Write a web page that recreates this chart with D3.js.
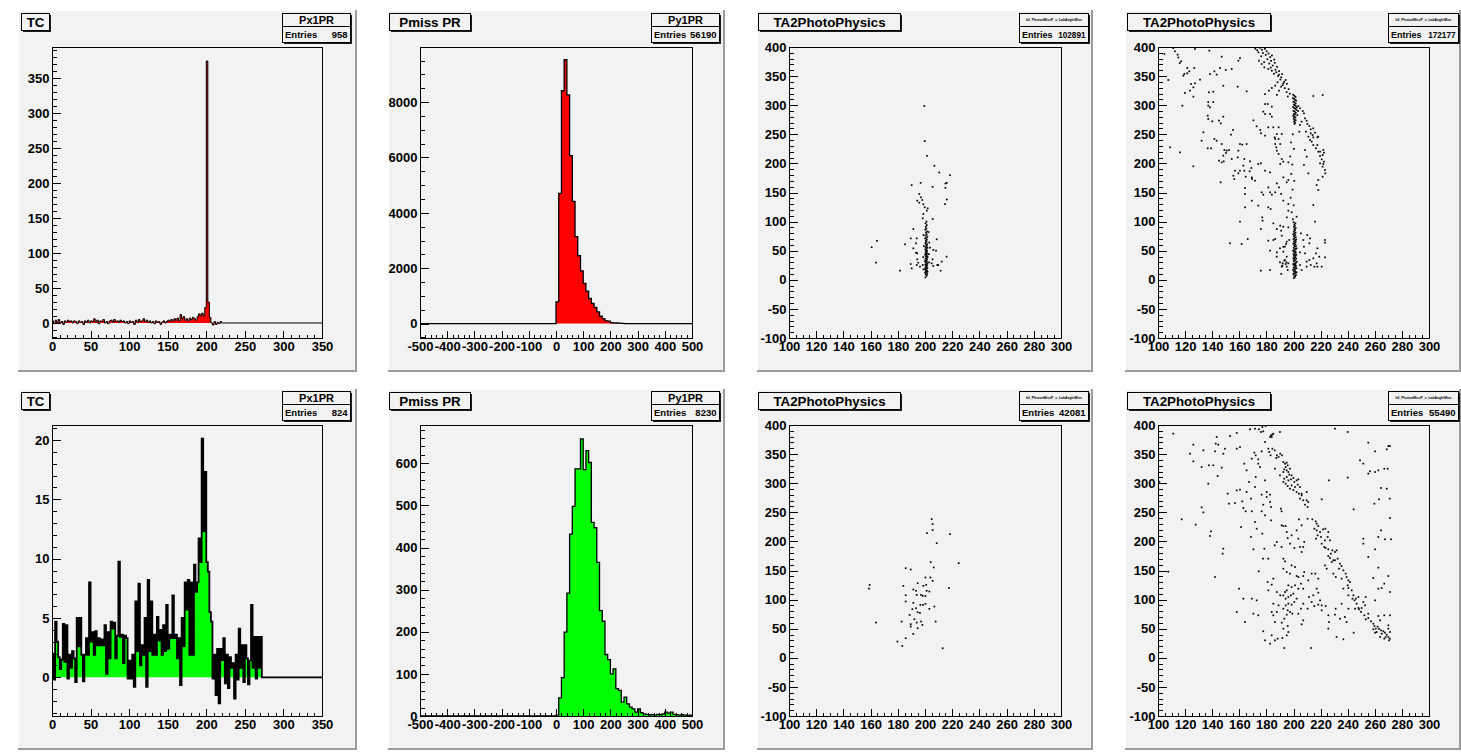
<!DOCTYPE html>
<html>
<head>
<meta charset="utf-8">
<script src="https://cdn.jsdelivr.net/npm/d3@7"></script>
<style>
  html, body { margin: 0; padding: 0; background: #ffffff; }
  svg { display: block; }
</style>
</head>
<body>
<svg id="canvas" width="1461" height="752"></svg>
<script>
// ---------------------------------------------------------------------------
// Data
// ---------------------------------------------------------------------------

// Px1PR (top, red), 2-unit bins starting at 0
const px1prTop = [
  3,-1,4,1,5,0,2,-2,3,1, 4,2,3,0,3,2,-1,3,1,2, -2,3,1,4,0,3,2,6,1,4,
  -1,3,2,5,0,2,-1,3,4,1, 5,2,3,1,4,2,3,0,2,-1, 3,1,2,-2,4,1,5,2,3,6,
  2,4,1,3,0,2,-1,3,1,2, -2,1,3,0,2,4,2,5,3,6, 4,7,3,12,6,9,4,6,3,7,
  5,8,6,4,9,13,10,14,10,22, 375,30,8,0,-3,2,-2,1,-1,2, 0
];

// Px1PR (bottom, green), 2-unit bins starting at 0
const px1prBottom = [
  2.0,-0.2,4.7,3.0,1.7,0.7,1.5,4.5,1.3,4.4,
  -0.1,1.9,0.8,2.2,1.6,-0.4,5.0,2.6,5.0,1.9,
  -0.35,1.9,3.3,1.9,8.0,3.0,3.8,1.9,3.9,2.7,
  3.3,2.7,3.2,2.7,4.4,0.3,3.8,1.6,4.7,4.1,
  4.6,1.6,3.5,9.75,3.4,3.6,1.2,3.5,3.3,-0.1,
  1.4,-0.1,1.9,-0.8,6.4,2.2,7.9,1.0,2.7,1.9,
  5.0,-0.8,8.2,2.2,6.4,1.9,3.6,1.9,5.1,3.1,
  4.0,1.9,4.4,2.2,6.1,2.4,3.6,3.3,6.9,3.3,
  3.6,1.6,3.3,-0.65,5.0,2.6,8.0,5.7,8.2,1.9,
  8.0,1.9,9.5,7.2,8.0,11.7,9.7,20.1,12.3,17.3,
  9.7,8.9,5.5,4.7,-0.1,1.9,-1.5,2.4,-2.2,2.4,
  1.45,3.3,-0.5,1.9,-0.9,1.7,0.8,1.2,-1.8,1.9,
  -0.2,4.1,0.8,2.7,-0.4,2.7,1.6,-0.6,1.4,6.1,
  0.8,3.4,-0.1,3.4,0.8,3.4
];

// Py1PR (top, red), 10-unit bins starting at 0
const py1prTop = [
  785,4700,8410,9530,8260,6070,4415,3140,2450,1905,
  1450,1170,905,725,580,420,265,180,100,90,
  30,25,20,15,5
];

// Py1PR (bottom, green), 10-unit bins starting at 0
const py1prBottom = [
  2,43,91,199,292,432,498,587,587,658,
  585,630,602,460,447,365,250,225,146,134,
  100,112,65,61,33,45,29,21,17,9,
  17,8,5,4,3,3,2,4,3,5,
  9,7,9,4,3,2,3,2,1,2
];

// TA2PhotoPhysics correlations, [x, y] per event
const photoTopA = [
  [199.5,298.5],[199.8,238.3],[201.5,213],[206.9,195.9],[210.5,184.4],[218.4,179.8],[205.6,159.7],
  [190.2,162.6],[196.8,166.6],[215,165.5],[216,166.6],[215,158],[216,138],[214.7,130],[195.8,147.4],
  [197,141.7],[194.3,136],[195.8,132.5],[198,137.1],[198.8,129.7],[199.8,124.5],[202,122.8],
  [201.3,118.8],[198.8,113],[198.3,105.6],[205.6,104.5],[191.4,87.3],[189.5,71.2],[193.9,71.2],
  [185.3,60.9],[191.4,54],[193.4,62.7],[193.4,46.6],[194.3,45.5],[208.6,69.5],[203.7,55.2],
  [206.1,51.2],[208.1,50.1],[215.9,39.8],[212.3,31.2],[209.8,25.4],[211.5,15.7],[205.6,35.2],
  [204.9,28.3],[206.1,23.7],[209,25.4],[194.3,35.2],[195,29.4],[189.5,27.1],[190.2,19.7],
  [181.6,15.7],[193.9,25.4],[196.3,22.6],[198.3,25.4],[164.7,66.9],[160.8,56],[164,29.6],
  [202.6,82],[198.9,77],[203.1,64],[199.2,58],[202.8,44],[198.7,39],[203.0,30],[198.9,18],
  [200.3,4],[201.2,7],[200.6,9],[201.6,10],[200.1,12],[201.0,13],[201.9,14],[200.5,15],[201.4,16],
  [200.0,18],[200.9,19],[201.7,20],[200.4,21],[201.2,22],[200.7,24],[201.5,25],[200.2,26],
  [201.0,27],[201.8,28],[200.5,30],[201.3,31],[200.0,32],[200.8,33],[201.6,35],[200.3,36],
  [201.1,37],[201.9,39],[200.6,40],[201.4,41],[200.1,43],[200.9,44],[201.7,45],[200.4,46],
  [201.2,48],[200.7,49],[201.5,50],[200.2,52],[201.0,53],[201.8,55],[200.5,56],[201.3,58],
  [200.8,60],[201.6,61],[200.3,63],[201.1,65],[200.6,67],[201.4,69],[200.1,71],[200.9,72],
  [201.7,74],[200.4,76],[201.2,78],[200.7,81],[201.5,83],[200.2,86],[201.0,88],[200.6,91],
  [201.3,94],[200.4,97],[201.1,100]
];

const photoTopB = [
  [111.3,398],[112.5,392.6],[114.5,386.8],[115,382],[117,375.4],[116,372.5],[107.6,343.3],[104.7,388],
  [127.3,396.6],[137.9,393.7],[147,383.4],[159.3,376.5],[160.5,381],[154.4,362.2],[150,360.5],
  [145.8,364],[141.6,358.2],[143.3,352.5],[138.4,353.6],[131,343.9],[127.3,337.6],[124.4,336.4],
  [126.1,330.7],[123.6,325],[121.6,364],[123.1,358.2],[119.4,353.6],[121.6,354.7],[118.7,350.7],
  [126.8,364],[119.9,321],[126.1,314.7],[118,299.2],[148.2,333.5],[158.8,331.8],[165.4,323.8],
  [137.6,322.1],[140.8,323.2],[137.1,305.5],[137.1,299.2],[140.8,305.5],[138.4,296.3],[136.7,282],
  [137.1,276.3],[140.1,272.3],[145,273.5],[146.3,268.8],[148.2,280.3],[153.9,249.4],[155.4,257.4],
  [133.5,253.4],[132.2,239],[141.6,241.9],[143.3,239],[136.7,225.9],[139.2,225.9],[147,233.3],
  [149,223],[150.2,217.9],[150.7,221.9],[152.4,223],[148.2,213.3],[145,204.7],[147,201.8],
  [148.5,203.6],[154.4,207.6],[160.5,233.3],[162.2,232.2],[165.4,233.3],[159.3,221.9],[158.8,210.5],
  [163.7,207.6],[167.9,203.6],[163,196.1],[160.5,187.5],[163.7,187.5],[156.8,187.5],[155.6,178.9],
  [159.3,182.9],[156.3,173.1],[168.9,192.1],[174,199],[175.9,200.1],[164.7,177.2],[167.6,186.4],
  [169.4,173.2],[171.6,170.3],[169.2,176],[126.1,195],[108.9,227.6],[116.2,219],[146.2,167.5],
  [164.2,157.7],[164.2,147.4],[164.2,124.5],[169.2,136],[174,127.4],[176.5,150.3],[177.7,146.3],
  [179,187.5],[182.7,184.6],[181.4,158.8],[182.7,150.3],[184,146.3],[186.5,150.3],
  [160.5,100],[153.1,62.7],[161.7,61.5],[166.2,70.1],[175.9,87.3],[176.9,107.3],[177.2,101.6],
  [181.4,124.5],[183.1,121.6],[185.1,97],[175.9,15.7],[182.7,50.1],[181.4,67.3],[186.5,70.1],
  [187.7,87.3],[187.7,47.2],[190.2,93],[190.9,84.4],[192.5,91.2],[191.3,75.8],[190,30],[191.8,24.3],
  [193.2,32.9],[194.8,30],[191,10],[194.2,27.1],[195,65.5],[194.5,61.5],[192.5,56.7],[196.2,90.1],
  [195,107.3],[196.2,118.8],[196.2,130.2],[192.5,136],[190.9,147.4],[189.3,158.8],[187.7,165.7],
  [192.5,176],[195,167.5],[196.2,171.4],[196.2,201.8],[192.5,203],[191.3,207.6],[190.2,199],
  [189,216.2],[187.7,221.9],[186.1,244.8],[186.5,233.3],[187.3,227.6],[186.5,242],[189,242],
  [190.2,233.3],[191.3,250.5],[189,262],[185.1,262],[181.4,262],[187.7,250.5],[175.5,257.4],
  [176,251.7],[179,247.7],[179,284.9],[182.7,284.9],[184,280.3],[179,302],[181,302],[184,297.5],
  [177.7,289],[172.8,263.7],[170.4,274],
  [179,319],[181.9,325],[184,329.6],[186.5,333.6],[187.7,317.8],[189.3,325],[190.9,331.8],
  [192.5,337.6],[194.2,343.3],[190.9,347.9],[189.3,352.5],[187.3,356.5],[184,359.3],[181.4,362.2],
  [178.5,365],[176.5,370.8],[174.5,376.5],
  [171.8,397],[173.2,394.5],[175.5,398.5],[176.8,395.2],[178.9,396.8],[174.1,391],[177.4,389.6],
  [180.2,392.5],[179.5,386.4],[181.6,388.8],[176.2,384],[182.8,382.6],[184.1,385.5],[180.7,379],
  [183.5,376.2],[185.8,378.4],[178.3,374.1],[182.1,371.5],[186.2,372.8],[184.6,368.2],[187.9,366],
  [183.2,364.5],[186.7,361],[189.4,358.5],[185.5,354],[188.6,350.2],[191.5,353.4],[190.3,344],
  [193.1,340.2],[188.2,339.4],[192,334.5],[195.1,336.8],[193.6,329.3],[196.4,327.6],[194.9,322.5],
  [197.3,319.8],[195.8,315],
  [199.8,318],[200.7,316],[201.5,314],[199.6,312],[200.4,311],[201.2,309],[202.0,308],[199.9,306],
  [200.8,305],[201.6,303],[200.2,301],[201.0,300],[201.8,298],[199.7,297],[200.5,295],[201.3,294],
  [202.1,292],[200.0,290],[200.9,289],[201.7,287],[200.3,285],[201.1,284],[199.8,282],[200.6,280],
  [201.4,279],[200.1,277],[200.9,275],[201.6,274],[200.4,272],[201.2,270],[200.7,268],
  [202.5,296],[203.4,290],[202.8,283],
  [199.5,250],[198.2,236],[200.3,225],[197.6,212],[199.1,198],[198.4,182],[200.6,170],[199.3,155],
  [197.9,141],[200.1,128],[198.7,116],[199.6,104],
  [203.6,298.6],[204.8,294.6],[206.8,290],[207.7,286],[206,271.7],[208.5,277.4],[209.7,273.4],
  [210.2,267.7],[211.7,264.3],[212.7,258.5],[214.6,260.2],[215.9,252.8],[212.7,251.7],[214.1,248.8],
  [211,246],[214.6,244.8],[217.6,244.8],[212.2,240.2],[213.4,237.3],[214.6,231.6],[217.6,231.6],
  [216.6,225.9],[218.3,220.2],[219.6,220.2],[222,223],[222.5,218.4],[221.5,214.4],[219.6,212.7],
  [220.8,207],[222.5,203],[219.6,200.1],[222,199],[221.5,194.4],[223.2,188.7],[223.5,182.9],
  [221.5,177.2],[218.3,171.5],[217.1,162.9],[218.3,154.3],[214.6,128.5],[211,182.9],[207.7,197.3],
  [208.5,223],[209.7,211.6],[204.3,254.5],[204.8,266],[209.2,254.5],[214.6,315.8],[221.5,317.5],
  [218.3,246],
  [205.5,79.8],[207.3,68.4],[207.7,56.9],[210.2,77],[212.2,71.2],[208.5,45.5],[209.7,31.2],
  [211.7,34],[212.7,25.4],[214.6,36.9],[215.4,22.6],[217.1,28.3],[217.6,54.1],[216.6,45.5],
  [219,39.7],[217.6,22.6],[220.8,22.6],[223.2,68.4],[223.2,63.8],[223.2,38.6],[215.9,99.9],
  [211.7,62.7],[204.8,25.4],[206,16.8],[209.7,22.6],[204.8,47.2],[202.3,108.5],
  [185.1,68.4],[190,54.1],[192,28.3],[191.3,22.6],[193.7,34],[195,39.7],[195,22.6],[196.2,28.3],
  [182.7,16.8],[187.6,39.7],[195.7,16.8],[196.9,68.4],[193.7,57],[192.5,48.3],
  [200.2,3],[201.1,5],[200.6,7],[201.8,8],[199.9,10],[200.8,11],[201.6,12],[202.3,13],[200.3,14],
  [201.2,15],[199.7,17],[200.6,18],[201.5,19],[202.2,20],[200.1,21],[201.0,22],[201.8,24],
  [200.4,25],[201.3,26],[199.8,27],[200.7,28],[201.6,29],[202.4,31],[200.2,32],[201.1,33],
  [200.5,35],[201.9,36],[199.9,37],[200.8,38],[201.5,39],[200.3,41],[201.2,42],[202.1,43],
  [200.0,44],[200.9,45],[201.7,47],[200.4,48],[201.3,49],[199.7,50],[200.6,52],[201.5,53],
  [202.3,54],[200.2,55],[201.0,57],[201.8,58],[200.5,59],[201.4,61],[199.9,62],[200.7,63],
  [201.6,65],[200.3,66],[201.2,68],[202.0,69],[200.0,70],[200.8,72],[201.7,73],[200.4,75],
  [201.3,77],[199.8,78],[200.6,80],[201.5,81],[200.2,83],[201.1,85],[200.7,87],[201.6,89],
  [200.3,91],[201.0,93],[200.6,95],[201.4,97],[200.1,99]
];

const photoBottomA = [
  [204.9,238.3],[205.6,229.7],[205.6,219.4],[201.5,214.2],[218.4,212.5],[208.6,197],[224.8,162.6],
  [204.2,164.3],[206.4,155.2],[185.8,154],[189.5,151.7],[200.3,138],[204,138],[205.6,132.2],
  [194.6,128.2],[200.9,125.3],[198.8,123.6],[184.1,123.6],[217.6,119.9],[158.8,119],[159.3,125.3],
  [191.4,117.4],[193.4,115.1],[201.2,115.1],[203.2,113.9],[197.1,108.1],[198.3,106.4],[200.3,106.4],
  [185.8,107.6],[193.9,108.1],[185.8,96.7],[191.4,94.4],[196.6,90.9],[198.5,90.9],[200.3,92.7],
  [206.9,88.1],[193.4,85.2],[190.7,83.5],[203.2,84.1],[194.6,78.3],[196.3,77.2],[188.7,73.7],
  [192.2,66.3],[207.8,62.3],[182.8,62.3],[164,60.6],[189.5,57.7],[189.5,53.7],[197.1,62.3],
  [198.1,56.5],[193.9,60.6],[194.6,50.8],[191.4,41],[185.8,33.6],[179.7,27.9],[183.3,20.4],[213,16.4]
];

const photoBottomB = [
  [111.3,385.1],[158.1,386.3],[167.9,392.6],[171.6,393.7],[174.5,392.6],[177,396.6],[179.5,398.3],
  [176,388],[177.7,389.1],[183.4,382.2],[182.7,379.4],[184.4,383.4],[190,388],[153.1,381.1],
  [143.3,379.4],[230.6,393.7],[240,388],[255.2,369.6],[260.2,354.7],[271.2,363.9],[268.8,358.2],
  [126.1,366.2],[148.2,350.7],[149.4,359.3],[142.6,368],[158.1,359.3],[160.5,362.1],[123.6,350.7],
  [126.1,337.6],[133.5,356.5],[171.1,352.5],[172.1,347.9],[174,341],[174,333.6],[175.3,327.8],
  [176.5,354.7],[179,370.8],[181.4,359.3],[182,353.6],[184.4,359.3],[186.1,356.5],[187.7,347.9],
  [189,345],[190.2,350.7],[191.5,347.9],[187.3,343.3],[183.1,347.9],[183.9,379.4],[185.1,385.1],
  [144.5,366.2],[142.1,354.7],[163.7,333.6],[165.4,322.1],[169.2,342.2],[172.1,310.7],[158.1,287.7],
  [162.2,268.8],[171.6,293.5],[176.5,280.3],[167.2,302.1],[107.6,148],[101,302.6],
  [192.5,336.4],[193.7,333.6],[195,335.3],[195.7,330.7],[194.2,327.8],[193.2,323.8],[192.5,319.2],
  [195,322.1],[196.2,319.2],[197.4,325],[196.9,314.7],[198.6,313.5],[195,310.7],[193.2,307.8],
  [196.2,304.9],[198.1,306.6],[199.9,308.9],[200.6,302.1],[202.3,304.9],[203.6,306.6],[192.5,302.1],
  [194.2,299.2],[195.7,295.2],[197.4,290.6],[198.6,296.3],[201.1,293.5],[203.1,297.5],[199.9,288.3],
  [202.3,284.9],[204,282],[206,279.1],[204.8,273.5],[207.2,270.6],[209.7,270.6],[210.9,267.7],
  [208.5,263.1],[210.4,259.1],[206,282],[209.7,284.9],[204.8,293.5],[190,313.5],[179,304.9],[186.3,325],
  [216.4,234.5],[217.1,230.5],[218.3,226.4],[215.4,221.9],[217.1,219],[219.6,216.1],[217.8,210.4],
  [220.3,207.6],[216.6,204.7],[221.8,220.7],[223.5,221.9],[225.7,216.1],[226.9,201.8],[223.2,201.8],
  [225.2,207.6],[220.8,196.1],[222.7,190.4],[223.7,188.7],[225.7,186.4],[228.7,184.6],[230.6,181.8],
  [231.8,184.6],[227.6,178.9],[226.9,171.5],[228.2,164.6],[230.6,167.5],[232.6,170.3],[234.3,161.7],
  [235.5,157.7],[233.6,153.1],[236.8,150.3],[238.5,144.6],[239.2,138.8],[240.5,133.1],[241.7,130.2],
  [240,124.5],[240.5,119.9],[243,115.9],[244.2,107.3],[243.5,101.6],[245,98.7],[246.6,93],
  [247.9,85.6],[248.4,83.3],[250.3,85.6],[252.8,90.1],[251.5,95.8],[253.3,104.5],[249.8,79],
  [252.3,73],[253.3,66.1],[255.2,68.4],[257.2,62.7],[258.9,58.6],[259.7,54.6],[260.7,50.1],
  [262.1,53.5],[263.1,49.6],[264.6,47.2],[266.3,45.5],[267.5,43.2],[268.8,39.7],[270,35.7],
  [271.2,32.9],[270.5,30],[265.1,41.4],[263.9,35.7],[261.4,44.3],[258.9,48.9],[260.2,43.2],
  [267,32.9],[268,35.7],[262.6,71.8],[263.9,64.4],[267,73],[270,55.8],[271.2,44.3],[255.2,75.8],
  [247.9,104.4],[246.1,101.6],[240.5,107.3],[236.8,118.8],[235.5,136],[229.4,144.6],[231.2,138.8],
  [229.4,167.5],[225.7,174.9],[224.5,153.1],[223.2,158.8],[218.3,136],[216.1,144.6],[217.1,118.8],
  [219.6,98.7],[220.8,90.1],[218.3,111.9],[214.6,107.3],[225.7,73],[226.2,61.5],[230.6,74.1],
  [231.1,84.4],[235.5,93],[234.3,67.2],[237.9,70.1],[239.2,61.5],[240.5,84.4],[245.4,84.4],
  [244.4,43.2],[231.8,35.7],[236.8,31.7],[212.9,16.8],[193.2,16.8],
  [249.1,339.3],[251.5,333.6],[255.2,316.4],[256.4,320.4],[260.2,319.2],[262.6,322.1],[267,324.9],
  [270,363.9],[269.5,324.9],[264.6,291.8],[268.8,290.6],[259.7,264.8],[263.1,272.3],[271,273.4],
  [271.2,240.2],[264.6,219],[262.6,207.6],[267.5,203.6],[272,203.6],[260.2,186.4],[255.2,173.2],
  [251.5,204.7],[251.5,196.1],[262.6,154.9],[270,140.5],[258.9,137.1],[267,127.4],[265.1,119.9],
  [271.2,113.1],[262.6,118.8],[260.2,98.7],[271.2,73],[270,50.1],[244.4,255.1],[240,309.7],
  [226.2,304.9],[220.8,272.3],[213.9,237.9],
  [137.1,299.2],[132.2,327.8],[137.6,330.7],[140.8,330.7],[144,312.4],[147,326.7],[151.4,282],
  [152.4,264.8],[156.8,265.9],[160.5,288.9],[163,257.4],[164.7,251.7],[165.4,284.9],[168.6,273.5],
  [169.2,251.7],[132.2,258.5],[133.5,249.9],[117.5,237.9],[127.8,228.8],[139.1,217.3],[138.4,209.3],
  [148.2,187.5],[147.7,178.9],[142.1,138.8],[161.3,224.7],[168.6,207.6],[170.4,186.4],[171.6,233.3],
  [172.8,221.9],[176.5,251.7],[177.7,263.1],[179,244.8],[180.2,276.3],[180.2,284.9],[182.7,280.3],
  [182.7,267.7],[183.4,259.1],[183.4,236.2],[177,213.3],[178.5,187.5],[174.3,148.6],[177.5,170.3],
  [180.9,130.2],[181.4,170.3],[183.9,125.7],[185.1,136],[186.1,193.2],[187.7,199],[190.7,256.3],
  [191.2,251.7],[191.2,227.6],[191.2,190.4],[192.5,226.4],[194.2,226.4],[195,216.2],[195.7,205.8],
  [197.4,196.1],[198.6,210.4],[200.6,188.7],[202.3,219],[203.6,204.7],[204.8,190.4],[206,227.6],
  [207.2,190.4],[207.9,199],[206,181.8],[204,237.9],[210.4,239],[192.5,170.3],[193.7,165.7],
  [192.5,153.1],[195,147.4],[197.4,144.6],[198.6,158.8],[201.1,156],[202.3,140.5],[203.6,138.8],
  [207.2,140.5],[207.9,147.4],[210.9,133.1],[213.4,144.6],[205.5,127.4],[207.2,118.8],[203.6,118.8],
  [201.1,124.5],[198.6,121.6],[196.2,124.5],[195,115.9],[193.7,113],[192.5,107.3],[194.2,101.6],
  [196.2,104.5],[198.1,107.3],[199.9,110.2],[202.3,101.6],[200.6,95.9],[198.6,91.3],[196.2,93],
  [194.2,90.1],[192.5,84.4],[195.7,81.6],[197.4,78.7],[199.1,75.8],[195,74.1],[193.2,67.2],
  [191.3,60.4],[192.5,50.1],[195.7,54.6],[196.2,44.3],[195,38.6],[191.8,34],[188.3,32.9],[186.3,30],
  [183.9,38.6],[182.7,24.3],[177.7,45.5],[179,30],[185.1,93],[183.9,78.7],[185.1,73],[186.3,61.5],
  [187.7,78.7],[189,90.1],[190.2,107.3],[187.7,113],[181.4,115.9],[172.8,98.7],[174,73],[170.4,75.8],
  [169.2,101.6],[163,101.6],[164.2,61.5],[158.1,78.7],[159.8,118.8],[203.6,75.8],[205.5,84.4],
  [207.2,93],[211.4,104.5],[213.4,95.9],[215.4,89],[210.4,84.4],[207.2,64.4],[206,57.5],[218.3,91.3],
  [220.8,81.6],[225.7,50.1],[223.7,89]
];

// Pad titles, statistics box names and entry counts
const padTitles  = ['TC', 'Pmiss PR', 'TA2PhotoPhysics', 'TA2PhotoPhysics',
                    'TC', 'Pmiss PR', 'TA2PhotoPhysics', 'TA2PhotoPhysics'];
const statNames  = ['Px1PR', 'Py1PR', 'h2_PhotonMissP_v_LabAngleMiss', 'h2_PhotonMissP_v_LabAngleMiss',
                    'Px1PR', 'Py1PR', 'h2_PhotonMissP_v_LabAngleMiss', 'h2_PhotonMissP_v_LabAngleMiss'];
const statEntries = ['958', '56190', '102891', '172177', '824', '8230', '42081', '55490'];

// ---------------------------------------------------------------------------
// Layout of the 4 x 2 canvas
// ---------------------------------------------------------------------------
const colX = [
  { pad: [18, 357],   frame: [52, 322],    title: [21, 49],     stats: [282, 350] },
  { pad: [388, 725],  frame: [420, 692],   title: [389, 470],   stats: [651, 719] },
  { pad: [757, 1093], frame: [789, 1061],  title: [758, 900],   stats: [1019, 1088] },
  { pad: [1125, 1461],frame: [1158, 1429], title: [1127, 1270], stats: [1388, 1458] }
];
const rowY = [
  { pad: [10, 372],  frame: [47, 338],  title: [13, 30],   stats: [13, 26, 42] },
  { pad: [389, 750], frame: [425, 716], title: [392, 409], stats: [391, 404, 420] }
];

const histAxesX = [
  { dom: [0, 350], major: 50, minor: 10 },
  { dom: [-500, 500], major: 100, minor: 20 }
];
const scatterX = { dom: [100, 300], major: 20, minor: 5 };
const scatterY = { dom: [-100, 400], major: 50, minor: 10 };

const panels = [
  { kind: 'hist', data: px1prTop, start: 0, width: 2, fill: '#ff0000', lw: 1,
    x: histAxesX[0], y: { dom: [-21.5, 395], major: 50, minor: 10 } },
  { kind: 'hist', data: py1prTop, start: 0, width: 10, fill: '#ff0000', lw: 1.3,
    x: histAxesX[1], y: { dom: [-521, 9990], major: 2000, minor: 500 } },
  { kind: 'scatter', data: photoTopA, x: scatterX, y: scatterY },
  { kind: 'scatter', data: photoTopB, x: scatterX, y: scatterY },
  { kind: 'hist', data: px1prBottom, start: 0, width: 2, fill: '#00ff00', lw: 1.8,
    x: histAxesX[0], y: { dom: [-3.26, 21.26], major: 5, minor: 1 } },
  { kind: 'hist', data: py1prBottom, start: 0, width: 10, fill: '#00ff00', lw: 1.3,
    x: histAxesX[1], y: { dom: [0, 691], major: 100, minor: 20 } },
  { kind: 'scatter', data: photoBottomA, x: scatterX, y: scatterY },
  { kind: 'scatter', data: photoBottomB, x: scatterX, y: scatterY }
];

// ---------------------------------------------------------------------------
// Drawing
// ---------------------------------------------------------------------------
const FONT = '"Liberation Sans", Arial, Helvetica, sans-serif';
const PAD_FILL = '#f2f2f2';
const svg = d3.select('#canvas');

function tickValues(dom, step) {
  const a = Math.ceil(dom[0] / step - 1e-9);
  const b = Math.floor(dom[1] / step + 1e-9);
  return d3.range(a, b + 1).map(k => +(k * step).toFixed(6));
}

function shadowBox(g, x0, y0, x1, y1) {
  g.append('rect')
    .attr('x', x0 + 2).attr('y', y0 + 2)
    .attr('width', x1 - x0).attr('height', y1 - y0)
    .attr('fill', '#1c1c1c');
  g.append('rect')
    .attr('x', x0 + 0.5).attr('y', y0 + 0.5)
    .attr('width', x1 - x0).attr('height', y1 - y0)
    .attr('fill', PAD_FILL).attr('stroke', '#000').attr('stroke-width', 1);
}

function styleAxis(sel) {
  sel.select('.domain').remove();
  sel.attr('font-family', FONT).attr('font-size', 13).attr('font-weight', 'bold');
  sel.selectAll('line').attr('stroke', '#000').attr('shape-rendering', 'crispEdges');
  sel.selectAll('text').attr('fill', '#000');
}

panels.forEach((p, i) => {
  const col = colX[i % 4], row = rowY[Math.floor(i / 4)];
  const g = svg.append('g');

  // pad with bevelled edge
  const [px0, px1] = col.pad, [py0, py1] = row.pad;
  g.append('rect').attr('x', px0).attr('y', py0)
    .attr('width', px1 - px0).attr('height', py1 - py0).attr('fill', PAD_FILL);
  g.append('path')
    .attr('d', `M${px0 + 0.5},${py1} L${px0 + 0.5},${py0 + 0.5} L${px1},${py0 + 0.5}`)
    .attr('fill', 'none').attr('stroke', '#ffffff').attr('stroke-width', 1);
  g.append('path')
    .attr('d', `M${px0},${py1 - 1} L${px1 - 1},${py1 - 1} L${px1 - 1},${py0}`)
    .attr('fill', 'none').attr('stroke', '#9c9c9c').attr('stroke-width', 2);

  const [fx0, fx1] = col.frame, [fy0, fy1] = row.frame;
  const x = d3.scaleLinear().domain(p.x.dom).range([fx0, fx1]);
  const y = d3.scaleLinear().domain(p.y.dom).range([fy1, fy0]);

  const clipId = 'clip' + i;
  g.append('clipPath').attr('id', clipId).append('rect')
    .attr('x', fx0).attr('y', fy0).attr('width', fx1 - fx0).attr('height', fy1 - fy0);
  const plot = g.append('g').attr('clip-path', `url(#${clipId})`);

  if (p.kind === 'hist') {
    const pts = p.data.map((v, k) => [p.start + k * p.width, v]);
    const end = p.start + p.data.length * p.width;
    const area = d3.area()
      .x(d => x(d[0])).y0(y(0)).y1(d => y(d[1]))
      .curve(d3.curveStepAfter);
    plot.append('path').datum([...pts, [end, 0]])
      .attr('d', area).attr('fill', p.fill);
    const line = d3.line()
      .x(d => x(d[0])).y(d => y(d[1]))
      .curve(d3.curveStepAfter);
    plot.append('path')
      .datum([[p.x.dom[0], 0], [p.start, 0], ...pts, [end, 0], [p.x.dom[1], 0]])
      .attr('d', line).attr('fill', 'none')
      .attr('stroke', '#000').attr('stroke-width', p.lw);
  } else {
    plot.selectAll('rect.ev').data(p.data).join('rect')
      .attr('class', 'ev')
      .attr('x', d => x(d[0]) - 0.85).attr('y', d => y(d[1]) - 0.85)
      .attr('width', 1.7).attr('height', 1.7)
      .attr('fill', '#000');
  }

  // frame
  g.append('rect')
    .attr('x', fx0 + 0.5).attr('y', fy0 + 0.5)
    .attr('width', fx1 - fx0).attr('height', fy1 - fy0)
    .attr('fill', 'none').attr('stroke', '#000').attr('stroke-width', 1);

  // axes: ticks point into the frame
  g.append('g').attr('transform', `translate(0,${fy1 + 0.5})`)
    .call(d3.axisBottom(x).tickValues(tickValues(p.x.dom, p.x.minor)).tickSize(-4).tickFormat(''))
    .call(styleAxis);
  g.append('g').attr('transform', `translate(0,${fy1 + 0.5})`)
    .call(d3.axisBottom(x).tickValues(tickValues(p.x.dom, p.x.major)).tickSize(-8).tickPadding(3)
      .tickFormat(d => String(d)))
    .call(styleAxis);
  g.append('g').attr('transform', `translate(${fx0 + 0.5},0)`)
    .call(d3.axisLeft(y).tickValues(tickValues(p.y.dom, p.y.minor)).tickSize(-4).tickFormat(''))
    .call(styleAxis);
  g.append('g').attr('transform', `translate(${fx0 + 0.5},0)`)
    .call(d3.axisLeft(y).tickValues(tickValues(p.y.dom, p.y.major)).tickSize(-8).tickPadding(3)
      .tickFormat(d => String(d)))
    .call(styleAxis);

  // title box
  const [tx0, tx1] = col.title, [ty0, ty1] = row.title;
  shadowBox(g, tx0, ty0, tx1, ty1);
  g.append('text')
    .attr('x', (tx0 + tx1) / 2 + 0.5).attr('y', ty1 - 3.5)
    .attr('text-anchor', 'middle')
    .attr('font-family', FONT).attr('font-weight', 'bold').attr('font-size', 13.3)
    .text(padTitles[i]);

  // statistics box
  const [sx0, sx1] = col.stats, [sy0, sMid, sy1] = row.stats;
  shadowBox(g, sx0, sy0, sx1, sy1);
  g.append('line')
    .attr('x1', sx0).attr('x2', sx1 + 1).attr('y1', sMid + 0.5).attr('y2', sMid + 0.5)
    .attr('stroke', '#000').attr('stroke-width', 1);
  const is2D = p.kind === 'scatter';
  g.append('text')
    .attr('x', (sx0 + sx1) / 2 + 0.5).attr('y', is2D ? sMid - 5 : sMid - 2.5)
    .attr('text-anchor', 'middle')
    .attr('font-family', FONT).attr('font-weight', 'bold')
    .attr('font-size', is2D ? 3.4 : 11)
    .text(statNames[i]);
  const longEntry = statEntries[i].length > 5;
  g.append('text')
    .attr('x', sx0 + 3).attr('y', sy1 - 4.5)
    .attr('font-family', FONT).attr('font-weight', 'bold')
    .attr('font-size', longEntry ? 9 : 9.5)
    .text('Entries');
  g.append('text')
    .attr('x', sx1 - 2.5).attr('y', sy1 - 4.5)
    .attr('text-anchor', 'end')
    .attr('font-family', FONT).attr('font-weight', 'bold')
    .attr('font-size', longEntry ? 8.2 : 9.5)
    .text(statEntries[i]);
});
</script>
</body>
</html>
